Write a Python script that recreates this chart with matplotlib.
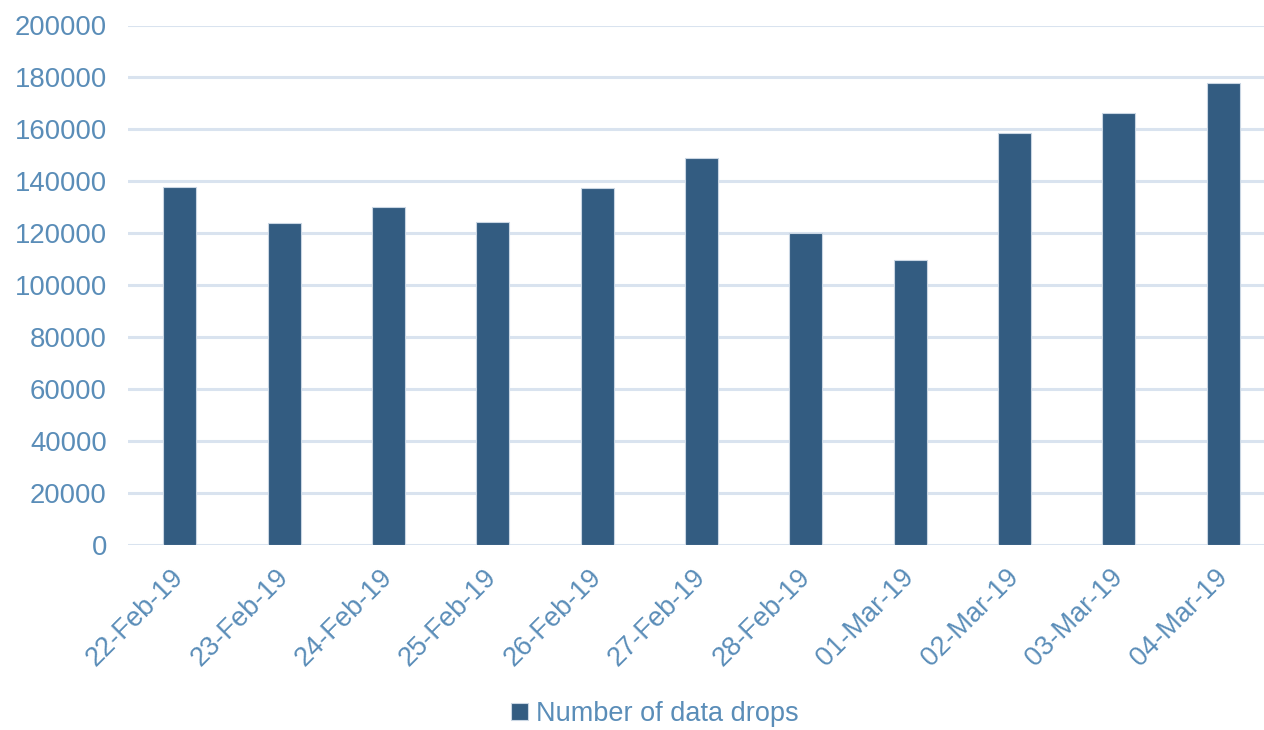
import matplotlib.pyplot as plt
import numpy as np

# --- Datos ---
dates = ['22-Feb-19', '23-Feb-19', '24-Feb-19', '25-Feb-19', '26-Feb-19',
         '27-Feb-19', '28-Feb-19', '01-Mar-19', '02-Mar-19', '03-Mar-19',
         '04-Mar-19']
drops = [138000, 124000, 130000, 124300, 137300, 149200, 120000, 109700,
         158800, 166200, 177900]
y_ticks = [0, 20000, 40000, 60000, 80000, 100000, 120000, 140000,
           160000, 180000, 200000]

bar_color = '#335c81'
text_color = '#5a8db8'
grid_color = '#d9e3ef'

plt.rcParams['font.family'] = ['Liberation Sans', 'DejaVu Sans']

fig = plt.figure(figsize=(12.64, 7.30), dpi=100)
W, H = 1264, 730
ax = fig.add_axes([127.7 / W, (H - 545.3) / H, 1147.8 / W, 519.8 / H])

x = np.arange(len(dates))
ax.bar(x, drops, width=0.316, color=bar_color, edgecolor='#c9d6e3',
       linewidth=0.8, zorder=3, label='Number of data drops')

ax.set_xlim(-0.5, len(dates) - 0.5)
ax.set_ylim(0, 200000)
ax.set_yticks(y_ticks)
ax.set_yticklabels([str(v) for v in y_ticks])
ax.yaxis.grid(True, color=grid_color, linewidth=2.2, zorder=0)
ax.set_axisbelow(True)

ax.set_xticks(x)
ax.set_xticklabels(dates, rotation=45, ha='right', va='center',
                   rotation_mode='anchor')

for s in ax.spines.values():
    s.set_visible(False)

ax.tick_params(axis='y', length=0, pad=15, labelsize=19.8, labelcolor=text_color)
ax.tick_params(axis='x', length=0, pad=20, labelsize=19.5, labelcolor=text_color)

leg = fig.legend(loc='center', bbox_to_anchor=(0.518, 0.022), frameon=False,
                 fontsize=19.5, handlelength=0.6, handleheight=0.6,
                 handletextpad=0.3, borderaxespad=0, borderpad=0.2)
for t in leg.get_texts():
    t.set_color(text_color)

fig.savefig('out.png', dpi=100)
